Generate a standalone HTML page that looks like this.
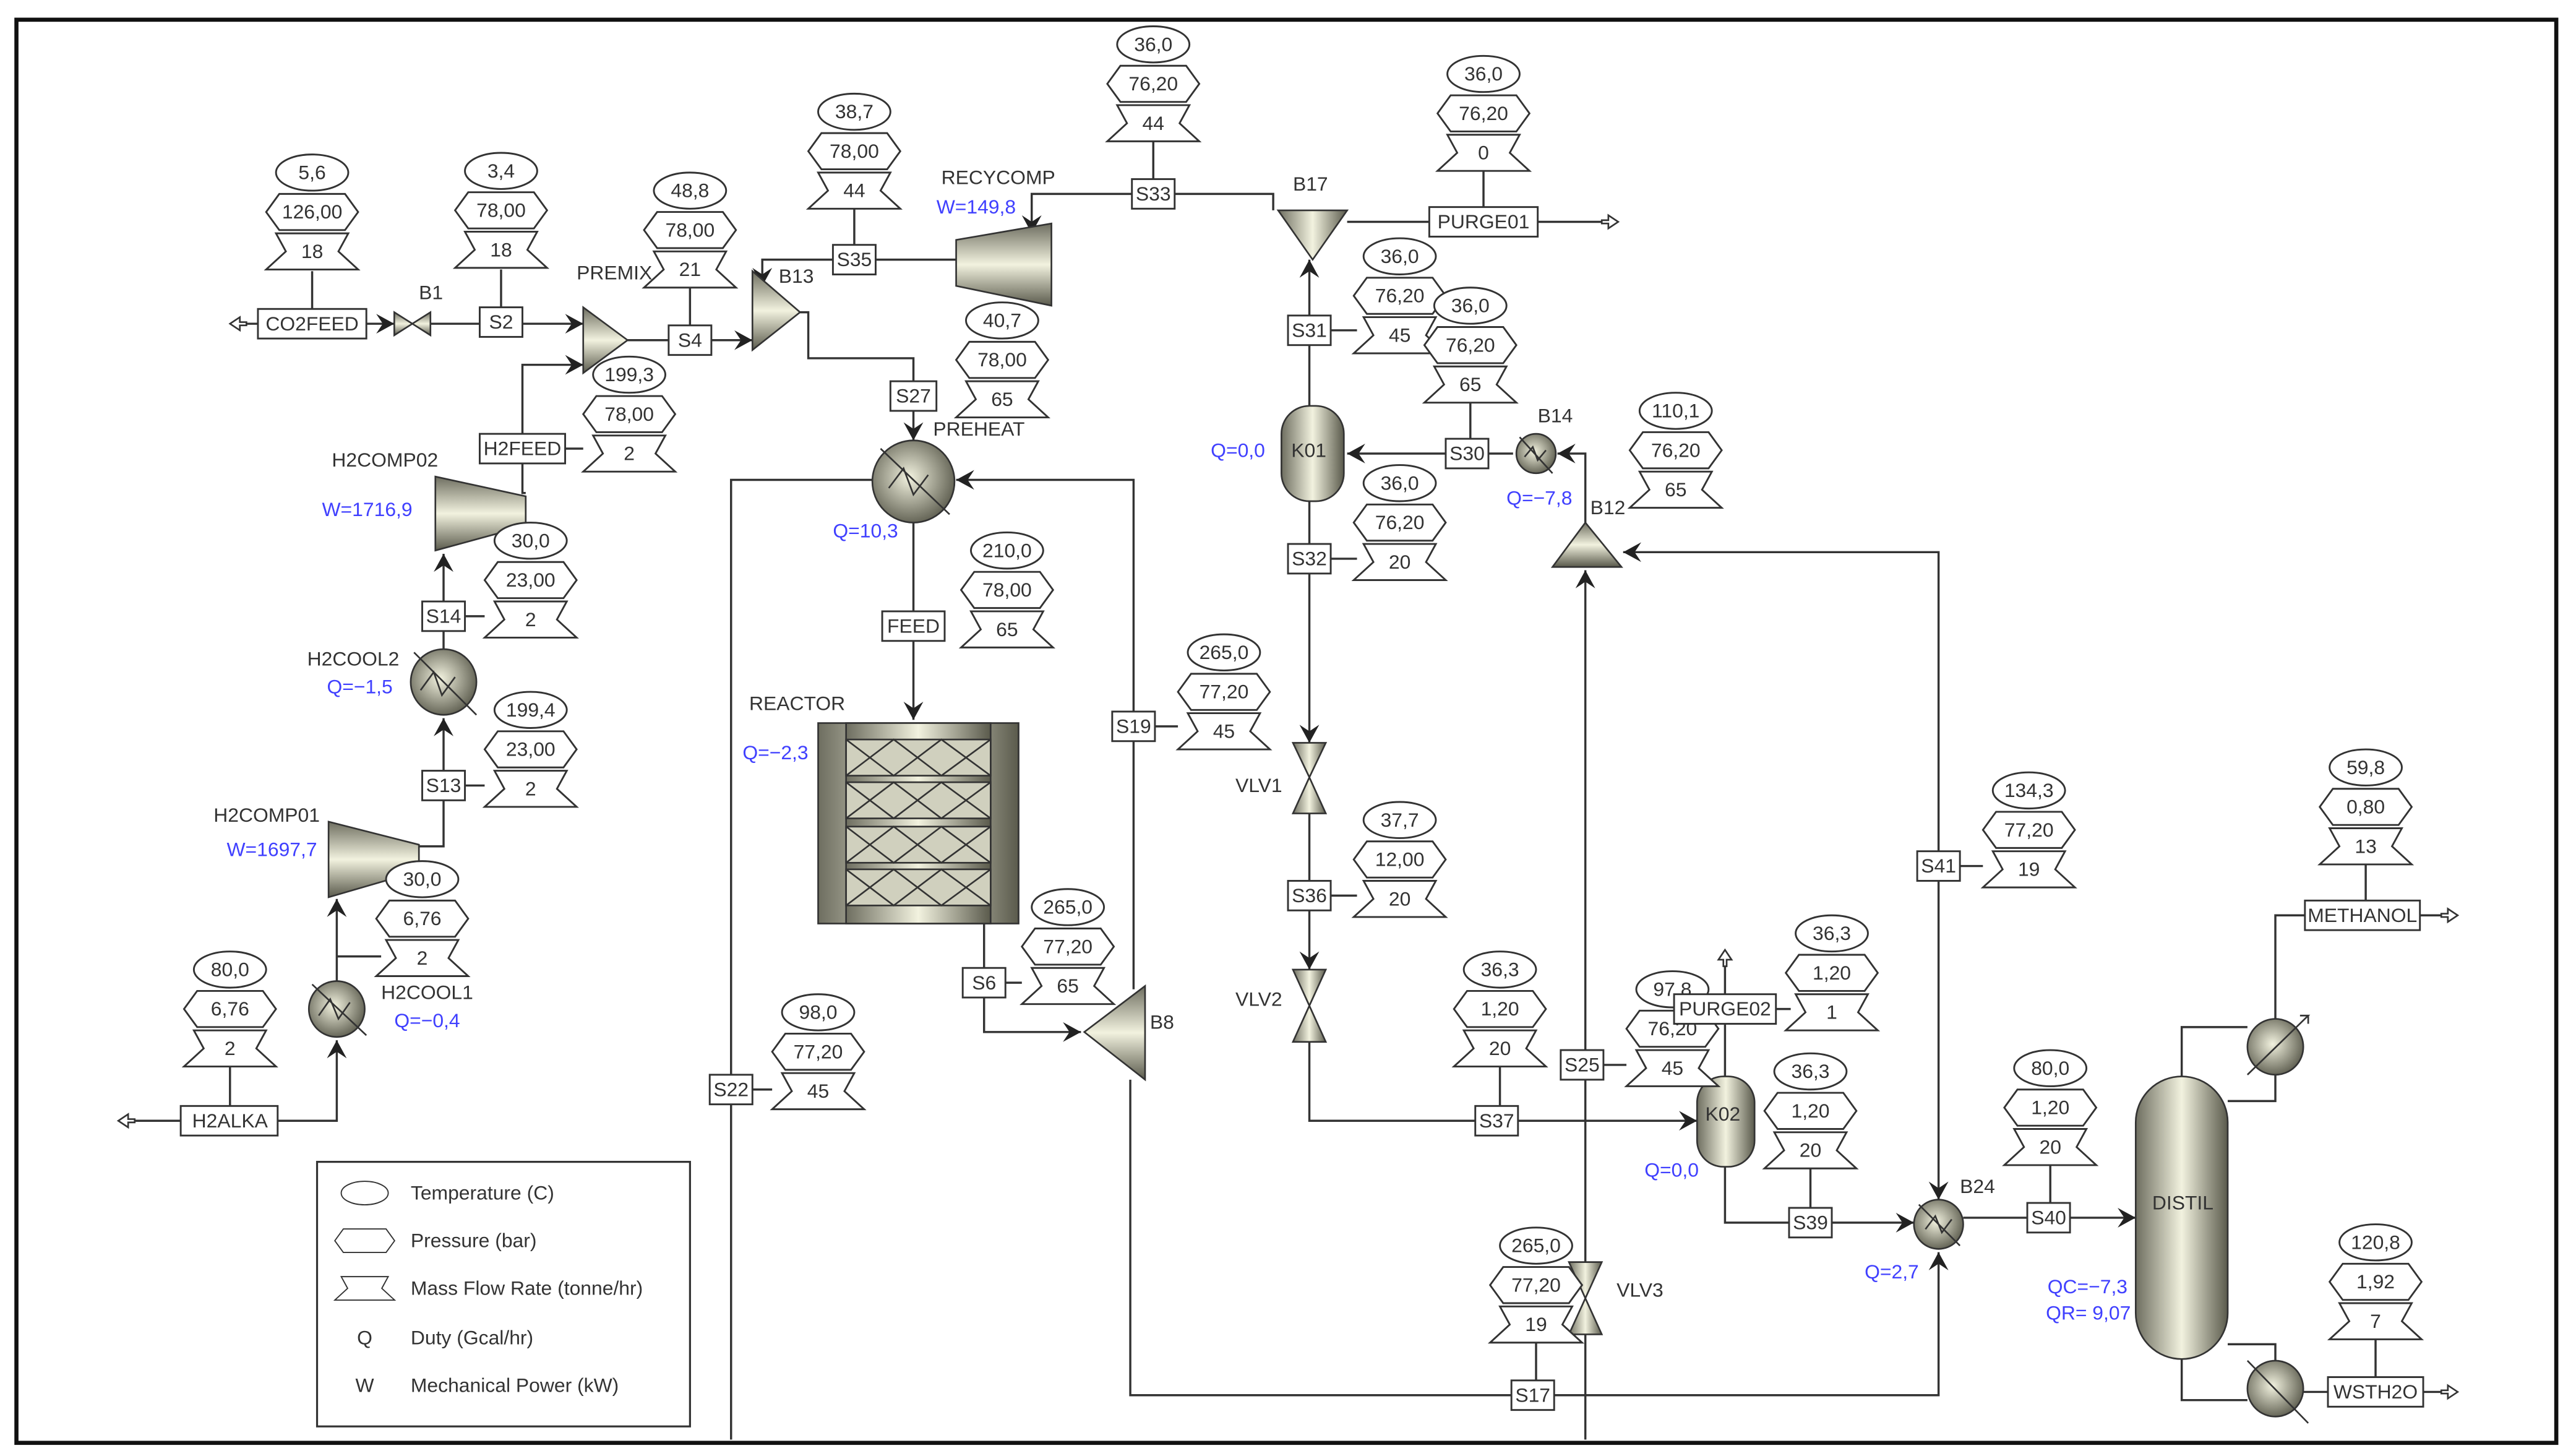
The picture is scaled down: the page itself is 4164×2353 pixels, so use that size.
<!DOCTYPE html>
<html><head><meta charset="utf-8"><style>
html,body{margin:0;padding:0;background:#fff}
svg{display:block}
text{font-family:"Liberation Sans",sans-serif;font-size:12px;fill:#333}
.t text{text-anchor:middle}
.b rect{fill:#fff;stroke:#333;stroke-width:1.1}
.b text{text-anchor:middle}
.l path{fill:none;stroke:#333;stroke-width:1.3}
.q{fill:#4040ff}
.eq{stroke:#333;stroke-width:1}
</style></head><body>
<svg width="4164" height="2353" viewBox="0 0 1568 886" preserveAspectRatio="none" xmlns="http://www.w3.org/2000/svg">
<defs>
<marker id="a" markerUnits="userSpaceOnUse" markerWidth="14" markerHeight="14" refX="11" refY="6" orient="auto"><path d="M0,0 L11,6 L0,12 L4,6 z" fill="#222"/></marker>
<linearGradient id="g" x1="0" x2="1" y1="0" y2="0"><stop offset="0" stop-color="#6e6e60"/><stop offset="0.5" stop-color="#f2f2df"/><stop offset="1" stop-color="#5a5a4c"/></linearGradient>
<linearGradient id="gv" x1="0" x2="0" y1="0" y2="1"><stop offset="0" stop-color="#6e6e60"/><stop offset="0.5" stop-color="#f2f2df"/><stop offset="1" stop-color="#5a5a4c"/></linearGradient>
<radialGradient id="gr" cx="0.45" cy="0.45" r="0.6"><stop offset="0" stop-color="#f2f2df"/><stop offset="1" stop-color="#5a5a4c"/></radialGradient>
<ellipse id="Te" rx="22" ry="11" fill="#fff" stroke="#333" stroke-width="1.1"/>
<polygon id="Pr" points="-20,-11 20,-11 28,0 20,11 -20,11 -28,0" fill="#fff" stroke="#333" stroke-width="1.1"/>
<polygon id="Fl" points="-22,-11 22,-11 16,0 28,11 -28,11 -16,0" fill="#fff" stroke="#333" stroke-width="1.1"/>
<path id="o" d="M0,0 l-6,-4 v3 h-4 v2 h4 v3 z" fill="#fff" stroke="#333"/>
</defs>
<rect x="10" y="12" width="1546" height="866" fill="none" stroke="#111" stroke-width="2.5"/>

<g class="l">
<path d="M157,197 H145"/><path d="M223,197 H240" marker-end="url(#a)"/><path d="M262,197 H292"/><path d="M318,197 H355" marker-end="url(#a)"/>
<path d="M190,165 V188"/><path d="M305,164 V187"/>
<path d="M318,264 V222 H355" marker-end="url(#a)"/>
<path d="M382,207 H407"/><path d="M433,207 H458" marker-end="url(#a)"/><path d="M420,175 V198"/>
<path d="M487,190 H492 V218 H556 V232"/><path d="M556,250 V268" marker-end="url(#a)"/>
<path d="M582,158 H533"/><path d="M507,158 H464 V174" marker-end="url(#a)"/><path d="M520,127 V149"/>
<path d="M775,128 V118 H715"/><path d="M689,118 H628 V142" marker-end="url(#a)"/><path d="M702,86 V109"/>
<path d="M820,135 H870"/><path d="M936,135 H980"/><path d="M903,104 V126"/>
<path d="M797,192 V158" marker-end="url(#a)"/><path d="M797,210 V247"/><path d="M810,201 H826"/>
<path d="M921,276 H906"/><path d="M880,276 H820" marker-end="url(#a)"/><path d="M895,245 V268"/>
<path d="M965,318 V276 H948" marker-end="url(#a)"/>
<path d="M1180,518 V336 H988" marker-end="url(#a)"/><path d="M1180,536 V730" marker-end="url(#a)"/><path d="M1193,527 H1207"/>
<path d="M965,876 V812"/><path d="M965,768 V657"/><path d="M965,639 V347" marker-end="url(#a)"/><path d="M976,648 H990"/>
<path d="M797,305 V331"/><path d="M797,349 V452" marker-end="url(#a)"/><path d="M810,340 H826"/>
<path d="M797,495 V536"/><path d="M797,554 V590" marker-end="url(#a)"/><path d="M810,545 H826"/>
<path d="M797,634 V682 H898"/><path d="M924,682 H1033" marker-end="url(#a)"/><path d="M913,649 V673"/>
<path d="M1050,655 V623"/><path d="M1050,605 V582"/><path d="M1081,614 H1090"/>
<path d="M1050,710 V744 H1089"/><path d="M1115,744 H1165" marker-end="url(#a)"/><path d="M1102,711 V735"/>
<path d="M1195,741 H1234"/><path d="M1260,741 H1300" marker-end="url(#a)"/><path d="M1248,709 V732"/>
<path d="M1328,655 V625 H1368"/><path d="M1356,670 H1385 V654"/><path d="M1385,620 V557 H1403"/><path d="M1473,557 H1490"/><path d="M1440,526 V548"/>
<path d="M1328,827 V852 H1368"/><path d="M1356,818 H1385 V828"/><path d="M1402,847 H1417"/><path d="M1475,847 H1490"/><path d="M1446,815 V838"/>
<path d="M688,657 V849 H920"/><path d="M946,849 H1180 V762" marker-end="url(#a)"/><path d="M935,817 V840"/>
<path d="M690,433 V292 H582" marker-end="url(#a)"/><path d="M531,292 H445 V654"/><path d="M445,672 V876"/>
<path d="M690,451 V602"/><path d="M458,663 H470"/><path d="M703,442 H717"/>
<path d="M556,318 V372"/><path d="M556,390 V438" marker-end="url(#a)"/>
<path d="M599,562 V589"/><path d="M599,607 V628 H658" marker-end="url(#a)"/><path d="M612,598 H622"/>
<path d="M110,682 H78"/><path d="M169,682 H205 V633" marker-end="url(#a)"/><path d="M205,597 V547" marker-end="url(#a)"/><path d="M205,582 H232"/><path d="M140,649 V673"/>
<path d="M255,515 H270 V487"/><path d="M270,469 V437" marker-end="url(#a)"/><path d="M270,395 V384"/><path d="M270,366 V337" marker-end="url(#a)"/>
<path d="M320,300 H318 V282"/><path d="M283,478 H295"/><path d="M283,375 H295"/><path d="M344,273 H355"/>
</g>
<use href="#o" x="140" y="197" transform="rotate(180 140 197)"/>
<use href="#o" x="985" y="135"/><use href="#o" x="1496" y="557"/><use href="#o" x="1496" y="847"/>
<use href="#o" x="72" y="682" transform="rotate(180 72 682)"/>
<use href="#o" x="1050" y="578" transform="rotate(-90 1050 578)"/>

<g class="eq">
<polygon points="240,190 251,197 240,204" fill="url(#gv)"/><polygon points="262,190 251,197 262,204" fill="url(#gv)"/>
<polygon points="355,187 355,227 382,207" fill="url(#gv)"/>
<polygon points="458,165 458,213 487,190" fill="url(#gv)"/>
<polygon points="582,146 640,136 640,186 582,174" fill="url(#gv)"/>
<polygon points="778,128 820,128 799,158" fill="url(#g)"/>
<rect x="780" y="247" width="38" height="58" rx="17" fill="url(#g)"/>
<circle cx="935" cy="276" r="12" fill="url(#gr)"/><path d="M925,266 L945,288 M928,278 l5,-6 l3,8 l5,-6" fill="none"/>
<polygon points="945,345 987,345 965,318" fill="url(#gv)"/>
<polygon points="955,768 975,768 965,790 955,812 975,812 965,790" fill="url(#g)"/>
<polygon points="787,452 807,452 797,473 787,495 807,495 797,473" fill="url(#g)"/>
<polygon points="787,590 807,590 797,612 787,634 807,634 797,612" fill="url(#g)"/>
<rect x="1033" y="655" width="35" height="55" rx="16" fill="url(#g)"/>
<circle cx="1180" cy="745" r="15" fill="url(#gr)"/><path d="M1168,733 L1193,758 M1172,748 l6,-8 l4,10 l6,-8" fill="none"/>
<rect x="1300" y="655" width="56" height="172" rx="28" fill="url(#g)"/>
<circle cx="1385" cy="637" r="17" fill="url(#gr)"/><path d="M1368,654 L1405,618 h-5 m5,0 v5" fill="none"/>
<circle cx="1385" cy="845" r="17" fill="url(#gr)"/><path d="M1368,828 L1405,866" fill="none"/>
<circle cx="556" cy="293" r="25" fill="url(#gr)"/><path d="M536,273 L578,313 M541,297 l9,-12 l6,16 l9,-12" fill="none"/>
<rect x="498" y="440" width="122" height="122" fill="url(#g)"/>
<rect x="515" y="440" width="88" height="122" fill="url(#g)"/>
<g fill="#d0d0be">
<rect x="515" y="450" width="88" height="22"/><rect x="515" y="476" width="88" height="22"/><rect x="515" y="503" width="88" height="22"/><rect x="515" y="529" width="88" height="22"/>
</g>
<path d="M515,450 l29,22 l29,-22 l30,22 M515,472 l29,-22 l29,22 l30,-22 M515,476 l29,22 l29,-22 l30,22 M515,498 l29,-22 l29,22 l30,-22 M515,503 l29,22 l29,-22 l30,22 M515,525 l29,-22 l29,22 l30,-22 M515,529 l29,22 l29,-22 l30,22 M515,551 l29,-22 l29,22 l30,-22" fill="none"/>
<polygon points="660,628 697,600 697,657" fill="url(#gv)"/>
<circle cx="205" cy="614" r="17" fill="url(#gr)"/><path d="M190,599 L223,630 M194,618 l7,-10 l5,12 l7,-10" fill="none"/>
<polygon points="200,500 255,514 255,530 200,546" fill="url(#gv)"/>
<circle cx="270" cy="415" r="20" fill="url(#gr)"/><path d="M252,397 L290,435 M256,420 l8,-11 l5,14 l8,-11" fill="none"/>
<polygon points="265,290 320,302 320,320 265,335" fill="url(#gv)"/>
</g>

<g class="b">
<rect x="157" y="188" width="66" height="18"/><text x="190" y="201">CO2FEED</text>
<rect x="292" y="187" width="26" height="18"/><text x="305" y="200">S2</text>
<rect x="407" y="198" width="26" height="18"/><text x="420" y="211">S4</text>
<rect x="507" y="149" width="26" height="18"/><text x="520" y="162">S35</text>
<rect x="689" y="109" width="26" height="18"/><text x="702" y="122">S33</text>
<rect x="870" y="126" width="66" height="18"/><text x="903" y="139">PURGE01</text>
<rect x="542" y="232" width="28" height="18"/><text x="556" y="245">S27</text>
<rect x="292" y="264" width="52" height="18"/><text x="318" y="277">H2FEED</text>
<rect x="784" y="192" width="26" height="18"/><text x="797" y="205">S31</text>
<rect x="880" y="267" width="26" height="18"/><text x="893" y="280">S30</text>
<rect x="784" y="331" width="26" height="18"/><text x="797" y="344">S32</text>
<rect x="257" y="366" width="26" height="18"/><text x="270" y="379">S14</text>
<rect x="537" y="372" width="38" height="18"/><text x="556" y="385">FEED</text>
<rect x="677" y="433" width="26" height="18"/><text x="690" y="446">S19</text>
<rect x="257" y="469" width="26" height="18"/><text x="270" y="482">S13</text>
<rect x="784" y="536" width="26" height="18"/><text x="797" y="549">S36</text>
<rect x="1167" y="518" width="26" height="18"/><text x="1180" y="531">S41</text>
<rect x="586" y="589" width="26" height="18"/><text x="599" y="602">S6</text>
<rect x="110" y="673" width="59" height="18"/><text x="140" y="686">H2ALKA</text>
<rect x="432" y="654" width="26" height="18"/><text x="445" y="667">S22</text>
<rect x="898" y="673" width="26" height="18"/><text x="911" y="686">S37</text>
<rect x="950" y="639" width="26" height="18"/><text x="963" y="652">S25</text>
<rect x="1089" y="735" width="26" height="18"/><text x="1102" y="748">S39</text>
<rect x="1234" y="732" width="26" height="18"/><text x="1247" y="745">S40</text>
<rect x="920" y="840" width="26" height="18"/><text x="933" y="853">S17</text>
<rect x="1403" y="548" width="70" height="18"/><text x="1438" y="561">METHANOL</text>
<rect x="1417" y="838" width="58" height="18"/><text x="1446" y="851">WSTH2O</text>
</g>

<g class="t">
<g transform="translate(190,105)"><use href="#Te"/><use href="#Pr" y="24"/><use href="#Fl" y="48"/><text y="4">5,6</text><text y="28">126,00</text><text y="52">18</text></g>
<g transform="translate(305,104)"><use href="#Te"/><use href="#Pr" y="24"/><use href="#Fl" y="48"/><text y="4">3,4</text><text y="28">78,00</text><text y="52">18</text></g>
<g transform="translate(420,116)"><use href="#Te"/><use href="#Pr" y="24"/><use href="#Fl" y="48"/><text y="4">48,8</text><text y="28">78,00</text><text y="52">21</text></g>
<g transform="translate(520,68)"><use href="#Te"/><use href="#Pr" y="24"/><use href="#Fl" y="48"/><text y="4">38,7</text><text y="28">78,00</text><text y="52">44</text></g>
<g transform="translate(702,27)"><use href="#Te"/><use href="#Pr" y="24"/><use href="#Fl" y="48"/><text y="4">36,0</text><text y="28">76,20</text><text y="52">44</text></g>
<g transform="translate(903,45)"><use href="#Te"/><use href="#Pr" y="24"/><use href="#Fl" y="48"/><text y="4">36,0</text><text y="28">76,20</text><text y="52">0</text></g>
<g transform="translate(610,195)"><use href="#Te"/><use href="#Pr" y="24"/><use href="#Fl" y="48"/><text y="4">40,7</text><text y="28">78,00</text><text y="52">65</text></g>
<g transform="translate(383,228)"><use href="#Te"/><use href="#Pr" y="24"/><use href="#Fl" y="48"/><text y="4">199,3</text><text y="28">78,00</text><text y="52">2</text></g>
<g transform="translate(852,156)"><use href="#Te"/><use href="#Pr" y="24"/><use href="#Fl" y="48"/><text y="4">36,0</text><text y="28">76,20</text><text y="52">45</text></g>
<g transform="translate(895,186)"><use href="#Te"/><use href="#Pr" y="24"/><use href="#Fl" y="48"/><text y="4">36,0</text><text y="28">76,20</text><text y="52">65</text></g>
<g transform="translate(1020,250)"><use href="#Te"/><use href="#Pr" y="24"/><use href="#Fl" y="48"/><text y="4">110,1</text><text y="28">76,20</text><text y="52">65</text></g>
<g transform="translate(852,294)"><use href="#Te"/><use href="#Pr" y="24"/><use href="#Fl" y="48"/><text y="4">36,0</text><text y="28">76,20</text><text y="52">20</text></g>
<g transform="translate(323,329)"><use href="#Te"/><use href="#Pr" y="24"/><use href="#Fl" y="48"/><text y="4">30,0</text><text y="28">23,00</text><text y="52">2</text></g>
<g transform="translate(613,335)"><use href="#Te"/><use href="#Pr" y="24"/><use href="#Fl" y="48"/><text y="4">210,0</text><text y="28">78,00</text><text y="52">65</text></g>
<g transform="translate(745,397)"><use href="#Te"/><use href="#Pr" y="24"/><use href="#Fl" y="48"/><text y="4">265,0</text><text y="28">77,20</text><text y="52">45</text></g>
<g transform="translate(323,432)"><use href="#Te"/><use href="#Pr" y="24"/><use href="#Fl" y="48"/><text y="4">199,4</text><text y="28">23,00</text><text y="52">2</text></g>
<g transform="translate(852,499)"><use href="#Te"/><use href="#Pr" y="24"/><use href="#Fl" y="48"/><text y="4">37,7</text><text y="28">12,00</text><text y="52">20</text></g>
<g transform="translate(1235,481)"><use href="#Te"/><use href="#Pr" y="24"/><use href="#Fl" y="48"/><text y="4">134,3</text><text y="28">77,20</text><text y="52">19</text></g>
<g transform="translate(257,535)"><use href="#Te"/><use href="#Pr" y="24"/><use href="#Fl" y="48"/><text y="4">30,0</text><text y="28">6,76</text><text y="52">2</text></g>
<g transform="translate(650,552)"><use href="#Te"/><use href="#Pr" y="24"/><use href="#Fl" y="48"/><text y="4">265,0</text><text y="28">77,20</text><text y="52">65</text></g>
<g transform="translate(1440,467)"><use href="#Te"/><use href="#Pr" y="24"/><use href="#Fl" y="48"/><text y="4">59,8</text><text y="28">0,80</text><text y="52">13</text></g>
<g transform="translate(140,590)"><use href="#Te"/><use href="#Pr" y="24"/><use href="#Fl" y="48"/><text y="4">80,0</text><text y="28">6,76</text><text y="52">2</text></g>
<g transform="translate(498,616)"><use href="#Te"/><use href="#Pr" y="24"/><use href="#Fl" y="48"/><text y="4">98,0</text><text y="28">77,20</text><text y="52">45</text></g>
<g transform="translate(913,590)"><use href="#Te"/><use href="#Pr" y="24"/><use href="#Fl" y="48"/><text y="4">36,3</text><text y="28">1,20</text><text y="52">20</text></g>
<g transform="translate(1018,602)"><use href="#Te"/><use href="#Pr" y="24"/><use href="#Fl" y="48"/><text y="4">97,8</text><text y="28">76,20</text><text y="52">45</text></g>
<g transform="translate(1115,568)"><use href="#Te"/><use href="#Pr" y="24"/><use href="#Fl" y="48"/><text y="4">36,3</text><text y="28">1,20</text><text y="52">1</text></g>
<g transform="translate(1102,652)"><use href="#Te"/><use href="#Pr" y="24"/><use href="#Fl" y="48"/><text y="4">36,3</text><text y="28">1,20</text><text y="52">20</text></g>
<g transform="translate(1248,650)"><use href="#Te"/><use href="#Pr" y="24"/><use href="#Fl" y="48"/><text y="4">80,0</text><text y="28">1,20</text><text y="52">20</text></g>
<g transform="translate(935,758)"><use href="#Te"/><use href="#Pr" y="24"/><use href="#Fl" y="48"/><text y="4">265,0</text><text y="28">77,20</text><text y="52">19</text></g>
<g transform="translate(1446,756)"><use href="#Te"/><use href="#Pr" y="24"/><use href="#Fl" y="48"/><text y="4">120,8</text><text y="28">1,92</text><text y="52">7</text></g>
</g>
<g class="b"><rect x="1019" y="605" width="62" height="18"/><text x="1050" y="618">PURGE02</text></g>

<text x="255" y="182">B1</text><text x="351" y="170">PREMIX</text><text x="474" y="172">B13</text>
<text x="573" y="112">RECYCOMP</text><text x="570" y="130" class="q">W=149,8</text>
<text x="787" y="116">B17</text><text x="786" y="278">K01</text><text x="737" y="278" class="q">Q=0,0</text>
<text x="936" y="257">B14</text><text x="917" y="307" class="q">Q=−7,8</text><text x="968" y="313">B12</text>
<text x="568" y="265">PREHEAT</text><text x="507" y="327" class="q">Q=10,3</text>
<text x="456" y="432">REACTOR</text><text x="452" y="462" class="q">Q=−2,3</text>
<text x="700" y="626">B8</text><text x="752" y="482">VLV1</text><text x="752" y="612">VLV2</text><text x="984" y="789">VLV3</text>
<text x="1038" y="682">K02</text><text x="1001" y="716" class="q">Q=0,0</text>
<text x="1193" y="726">B24</text><text x="1135" y="778" class="q">Q=2,7</text>
<text x="1310" y="736">DISTIL</text><text x="1295" y="787" class="q" text-anchor="end">QC=−7,3</text><text x="1297" y="803" class="q" text-anchor="end">QR= 9,07</text>
<text x="202" y="284">H2COMP02</text><text x="196" y="314" class="q">W=1716,9</text>
<text x="187" y="405">H2COOL2</text><text x="199" y="422" class="q">Q=−1,5</text>
<text x="130" y="500">H2COMP01</text><text x="138" y="521" class="q">W=1697,7</text>
<text x="232" y="608">H2COOL1</text><text x="240" y="625" class="q">Q=−0,4</text>

<rect x="193" y="707" width="227" height="161" fill="#fff" stroke="#333" stroke-width="1.2"/>
<g class="t">
<g transform="translate(222,726) scale(0.65)"><use href="#Te"/></g>
<g transform="translate(222,755) scale(0.65)"><use href="#Pr"/></g>
<g transform="translate(222,784) scale(0.65)"><use href="#Fl"/></g>
<text x="222" y="818">Q</text><text x="222" y="847">W</text></g>
<text x="250" y="730">Temperature (C)</text><text x="250" y="759">Pressure (bar)</text><text x="250" y="788">Mass Flow Rate (tonne/hr)</text><text x="250" y="818">Duty (Gcal/hr)</text><text x="250" y="847">Mechanical Power (kW)</text>
</svg>
</body></html>
